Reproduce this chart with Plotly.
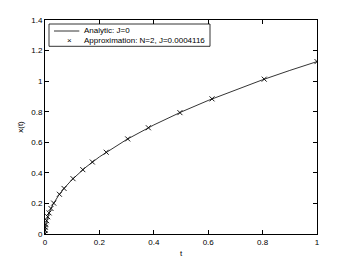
import plotly.graph_objects as go

# Analytic solution
t_analytic = [0, 0.0005, 0.001, 0.002, 0.005, 0.01, 0.02, 0.03, 0.05, 0.07, 0.1,
              0.15, 0.2, 0.3, 0.4, 0.5, 0.6, 0.7, 0.8, 0.9, 1.0]
x_analytic = [0, 0.0252, 0.0357, 0.0505, 0.0798, 0.1128, 0.1596, 0.1954, 0.2523,
              0.2985, 0.3567, 0.4369, 0.5045, 0.6179, 0.7135, 0.7977, 0.8737,
              0.9438, 1.0089, 1.0701, 1.128]

# Approximation nodes (markers)
t_approx = [0, 0.0005, 0.0015, 0.003, 0.006, 0.01, 0.015, 0.022, 0.032, 0.053, 0.070,
            0.103, 0.139, 0.174, 0.225, 0.304, 0.38, 0.496, 0.614, 0.806, 1.0]
x_approx = [0, 0.025, 0.044, 0.062, 0.087, 0.113, 0.138, 0.167, 0.202, 0.26, 0.298,
            0.362, 0.421, 0.471, 0.535, 0.622, 0.695, 0.794, 0.884, 1.013, 1.128]

x_ticks = [0, 0.2, 0.4, 0.6, 0.8, 1]
x_ticklabels = ["0", "0.2", "0.4", "0.6", "0.8", "1"]
y_ticks = [0, 0.2, 0.4, 0.6, 0.8, 1.0, 1.2, 1.4]
y_ticklabels = ["0", "0.2", "0.4", "0.6", "0.8", "1", "1.2", "1.4"]

legend_labels = ["Analytic: J=0", "Approximation: N=2, J=0.0004116"]

FONT = "Liberation Sans, Arial, Helvetica"
FS = 8

fig = go.Figure()
fig.add_trace(go.Scatter(x=t_analytic, y=x_analytic, mode="lines",
                         line=dict(color="black", width=0.8),
                         name=legend_labels[0], showlegend=False))
fig.add_trace(go.Scatter(x=t_approx, y=x_approx, mode="markers",
                         marker=dict(symbol="x-thin", size=5, color="black",
                                     line=dict(color="black", width=0.9)),
                         name=legend_labels[1], showlegend=False))

axis_common = dict(showline=True, linecolor="black", linewidth=1, mirror="ticks",
                   ticks="inside", ticklen=4, tickcolor="black", tickwidth=0.8,
                   showgrid=False, zeroline=False, automargin=False,
                   tickfont=dict(family=FONT, size=FS, color="black"))

# plot area in screen px: x 45..317, y 20..234  (page body adds an 8px offset)
def dx(px):
    return (px - 45) / 272.0

def dy(py):
    return (234 - py) / 214.0

shapes = [
    dict(type="rect", xref="x domain", yref="y domain",
         x0=dx(49), x1=dx(210), y0=dy(46.3), y1=dy(24),
         line=dict(color="black", width=0.8), fillcolor="white", layer="above"),
    dict(type="line", xref="x domain", yref="y domain",
         x0=dx(54), x1=dx(79.3), y0=dy(31), y1=dy(31),
         line=dict(color="black", width=0.8), layer="above"),
]
annotations = [
    dict(xref="x domain", yref="y domain", x=dx(81.5), y=dy(31), text=legend_labels[0],
         showarrow=False, xanchor="left", yanchor="middle",
         font=dict(family=FONT, size=FS, color="black")),
    dict(xref="x domain", yref="y domain", x=dx(81.5), y=dy(40.5), text=legend_labels[1],
         showarrow=False, xanchor="left", yanchor="middle",
         font=dict(family=FONT, size=FS, color="black")),
    dict(xref="x domain", yref="y domain", x=dx(69), y=dy(40.5), text="×",
         showarrow=False, xanchor="center", yanchor="middle",
         font=dict(family=FONT, size=FS, color="black")),
]

fig.update_layout(
    width=350, height=264,
    margin=dict(l=37, r=41, t=12, b=38, autoexpand=False),
    paper_bgcolor="white", plot_bgcolor="white",
    font=dict(family=FONT, size=FS, color="black"),
    xaxis=dict(range=[0, 1], tickvals=x_ticks, ticktext=x_ticklabels,
               title=dict(text="t", standoff=4, font=dict(size=FS)), **axis_common),
    yaxis=dict(range=[0, 1.4], tickvals=y_ticks, ticktext=y_ticklabels,
               title=dict(text="x(t)", standoff=6, font=dict(size=FS)), **axis_common),
    shapes=shapes,
    annotations=annotations,
    showlegend=False,
)

fig.write_html("out.html")
